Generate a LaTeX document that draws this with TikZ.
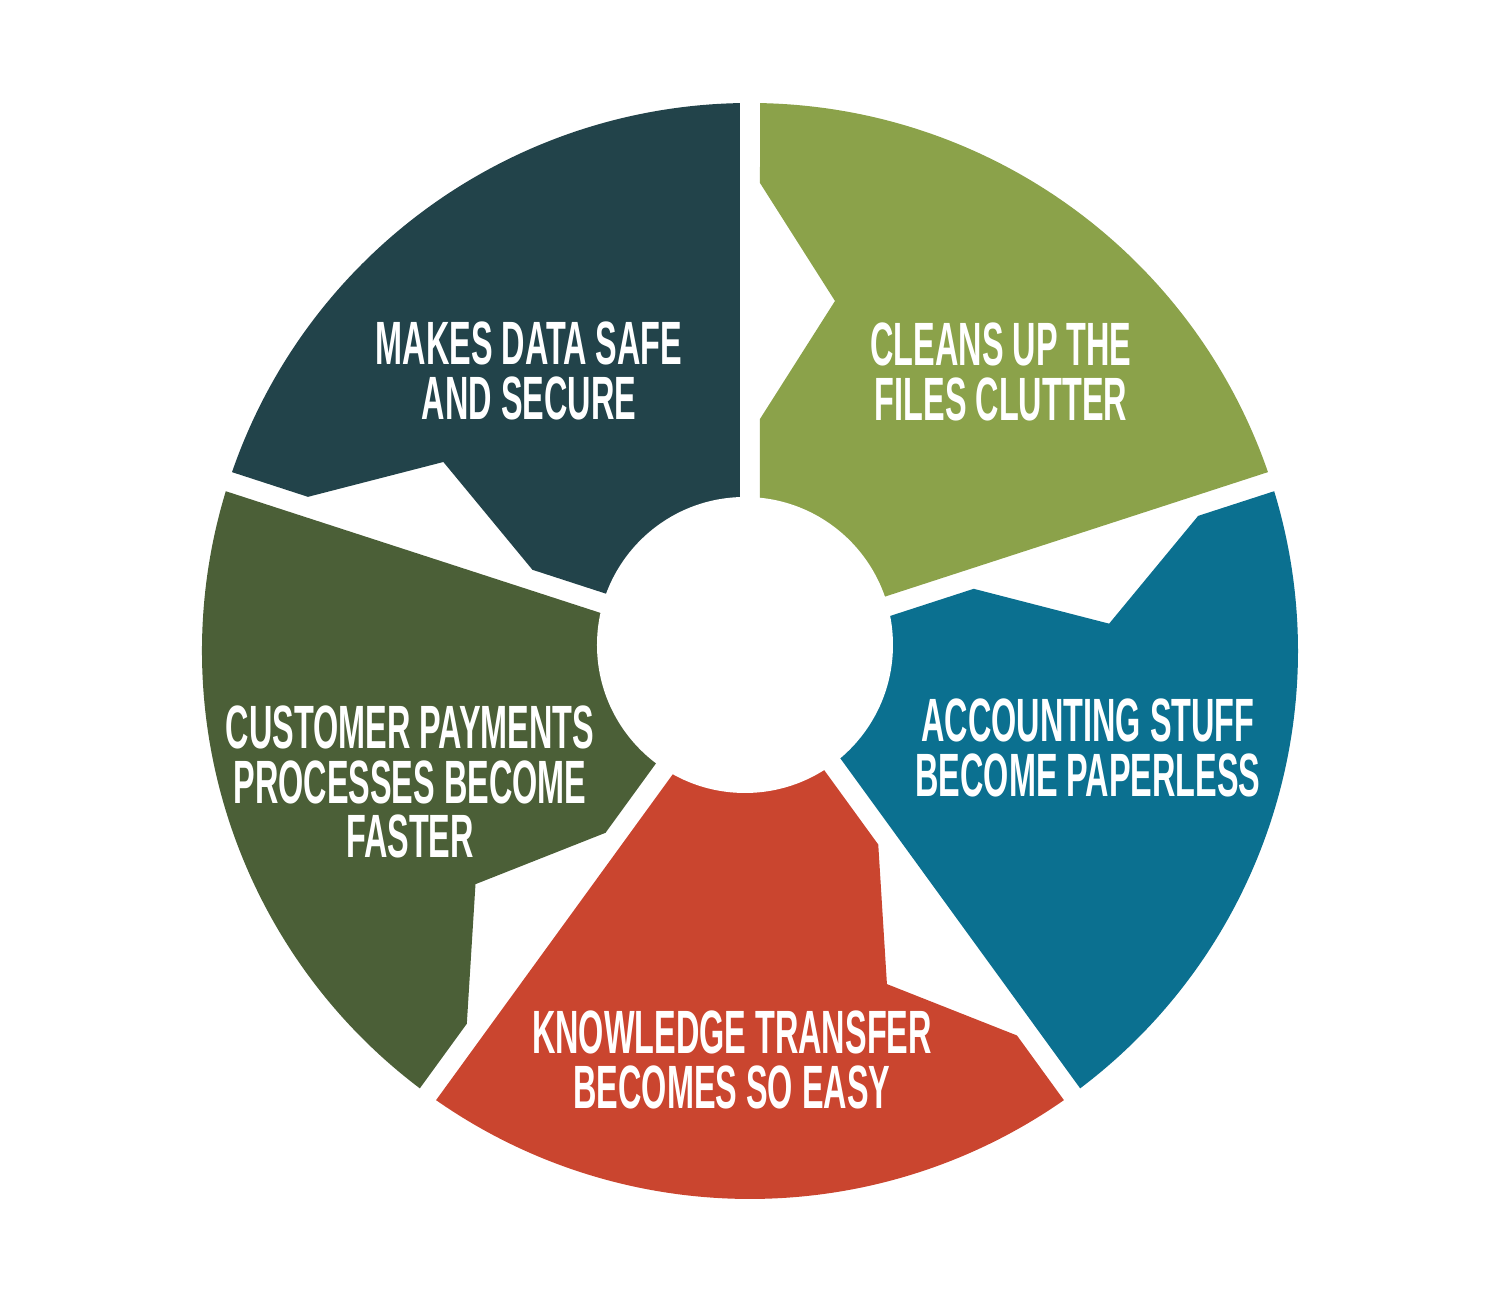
\documentclass[tikz,border=0pt]{standalone}
\usepackage{fontspec}
\newfontfamily\segfont[FakeStretch=0.53]{Liberation Sans}

\definecolor{segnavy}{HTML}{22434A}
\definecolor{seglime}{HTML}{8BA24A}
\definecolor{segteal}{HTML}{0B7090}
\definecolor{segred}{HTML}{CA452F}
\definecolor{segolive}{HTML}{4B5F37}

\tikzset{
  seglabel/.style={text=white,align=center,inner sep=0pt,
    font=\segfont\bfseries\fontsize{17.4}{15.6}\selectfont}
}

\begin{document}
\begin{tikzpicture}
  \def\R{5.48}
  \def\ri{1.48}
  \def\g{0.10}
  \def\segment{(-36:0.17) -- (2.32,-\g) -- (3.50,-0.85) -- (4.68,-\g) -- (-1.05:\R)
    arc[start angle=-1.05, end angle=-70.95, radius=\R] -- cycle}

  \useasboundingbox (-7.5,-6.49) rectangle (7.5,6.51);

  % Segments
  \begin{scope}[rotate=162]
    \fill[segnavy] \segment;
  \end{scope}
  \begin{scope}[rotate=90]
    \fill[seglime] \segment;
  \end{scope}
  \begin{scope}[rotate=18]
    \fill[segteal] \segment;
  \end{scope}
  \begin{scope}[rotate=-54]
    \fill[segred] \segment;
  \end{scope}
  \begin{scope}[rotate=-126]
    \fill[segolive] \segment;
  \end{scope}

  % Hole
  \fill[white] (-0.05,0.06) circle (\ri);

  % Labels
  \node[seglabel] (safe) at (-2.21,2.80) {MAKES DATA SAFE\\AND SECURE};
  \node[seglabel] (clutter) at (2.51,2.79) {CLEANS UP THE\\FILES CLUTTER};
  \node[seglabel] (paperless) at (3.38,-0.97) {ACCOUNTING STUFF\\BECOME PAPERLESS};
  \node[seglabel] (transfer) at (-0.18,-4.09) {KNOWLEDGE TRANSFER\\BECOMES SO EASY};
  \node[seglabel] (payments) at (-3.40,-1.31) {CUSTOMER PAYMENTS\\PROCESSES BECOME\\FASTER};
\end{tikzpicture}
\end{document}
